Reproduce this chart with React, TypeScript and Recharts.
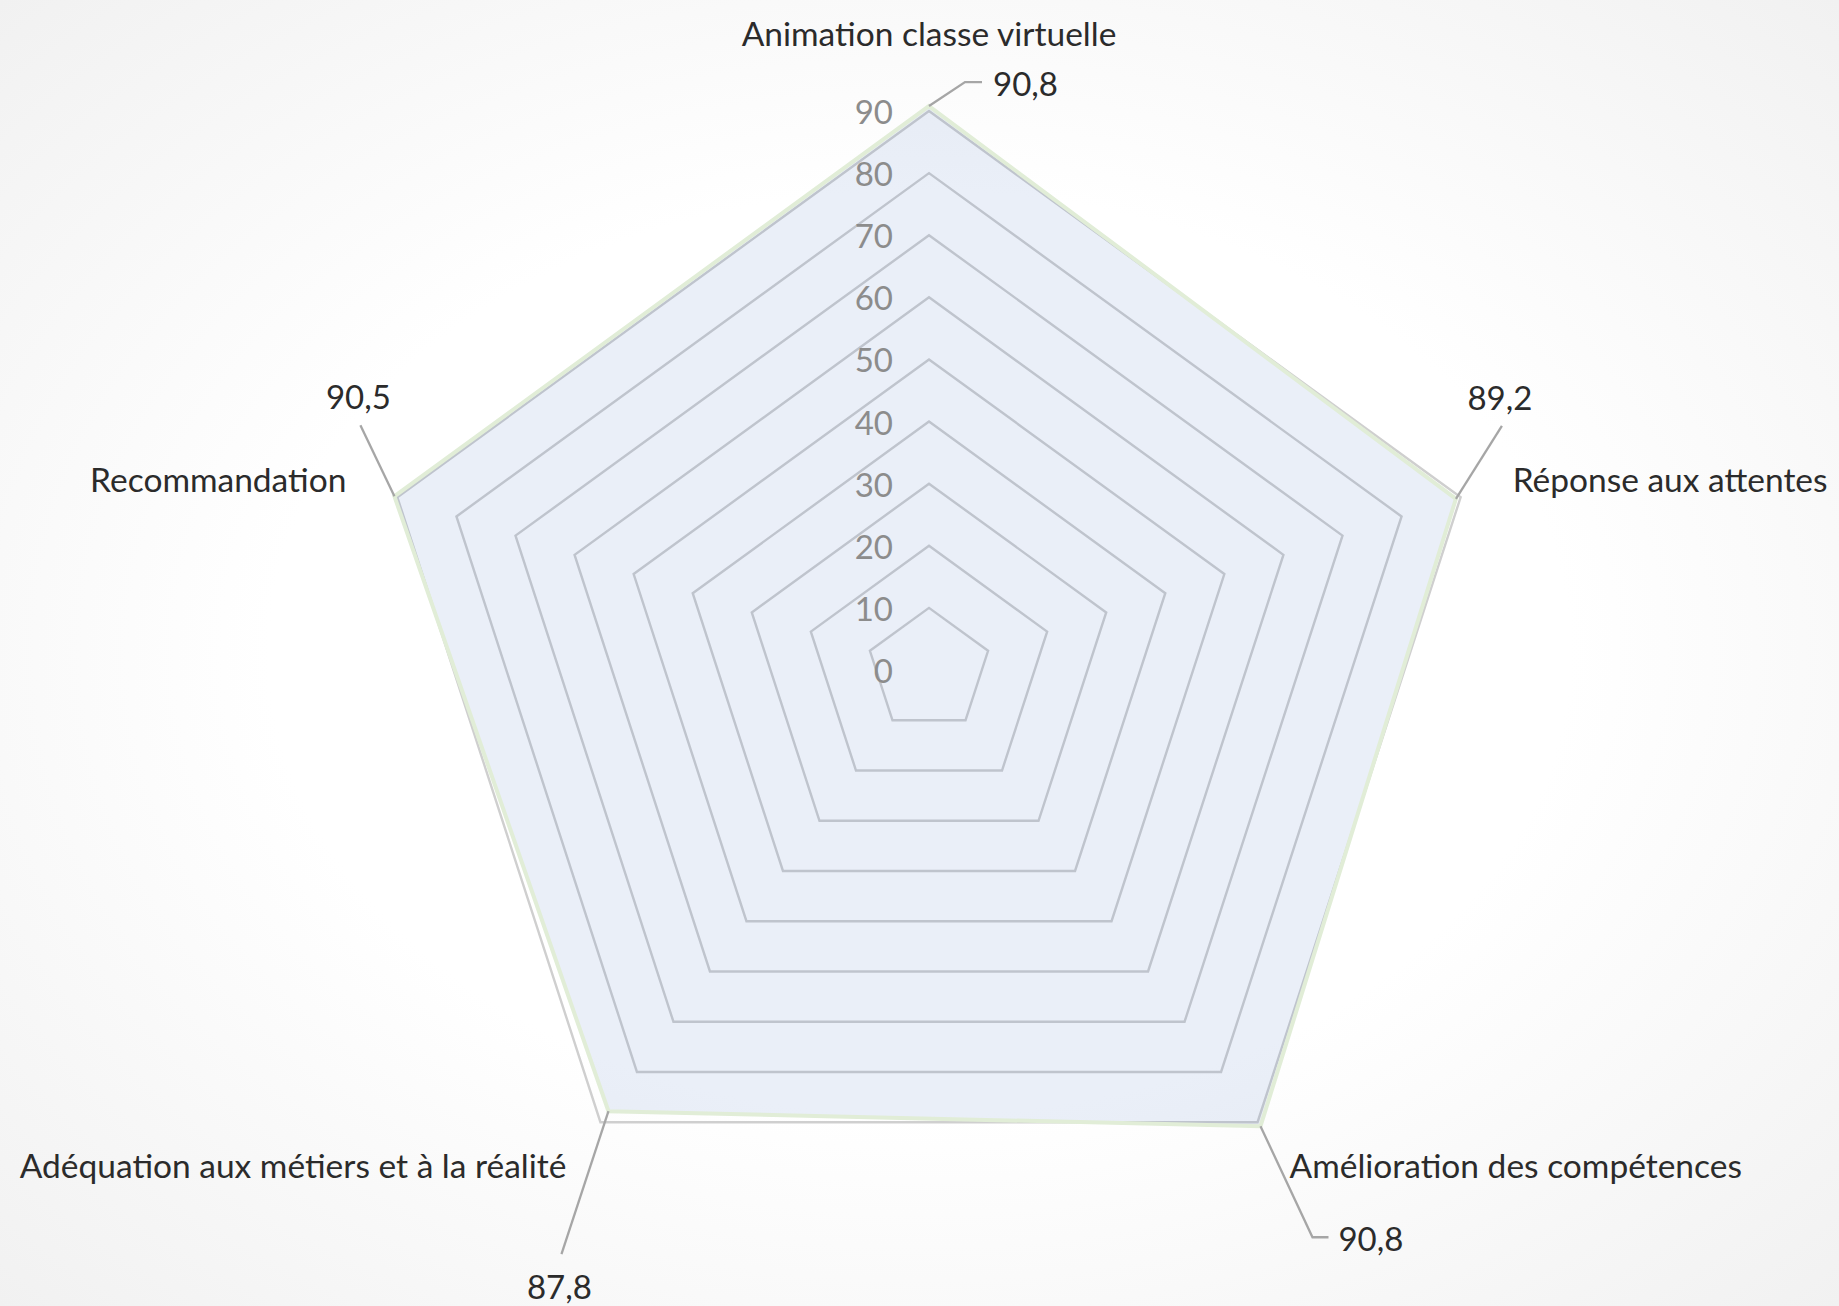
import React from 'react';
import { RadarChart, Radar, PolarGrid, PolarAngleAxis, PolarRadiusAxis } from 'recharts';

const categories = [
  'Animation classe virtuelle',
  'Réponse aux attentes',
  'Amélioration des compétences',
  'Adéquation aux métiers et à la réalité',
  'Recommandation',
];
const scores = [90.8, 89.2, 90.8, 87.8, 90.5];
const radiusTicks = [0, 10, 20, 30, 40, 50, 60, 70, 80, 90];

const rows = categories.map((name, i) => ({ name, score: scores[i] }));

// layout
const W = 1839;
const H = 1306;
const CX = 929;
const CY = 670;
const R = 559;
const FONT = 'Lato, "Open Sans", sans-serif';
const TEXT = '#2b2b2b';

// category label placement relative to the outer vertex
const CAT_LAYOUT: { dx: number; dy: number; anchor: 'start' | 'middle' | 'end' }[] = [
  { dx: 0, dy: -78, anchor: 'middle' },
  { dx: 52, dy: -18, anchor: 'start' },
  { dx: 32, dy: 43, anchor: 'start' },
  { dx: -34, dy: 43, anchor: 'end' },
  { dx: -51, dy: -18, anchor: 'end' },
];

// data label leader lines relative to the data point
const LABEL_LAYOUT: { line: [number, number][]; tx: number; ty: number; anchor: 'start' | 'middle' | 'end' }[] = [
  { line: [[36, -24], [53, -24]], tx: 64, ty: -23, anchor: 'start' },
  { line: [[46, -73]], tx: 44, ty: -102, anchor: 'middle' },
  { line: [[52, 111], [68, 111]], tx: 78, ty: 112, anchor: 'start' },
  { line: [[-47, 143]], tx: -49, ty: 175, anchor: 'middle' },
  { line: [[-34, -71]], tx: -36, ty: -100, anchor: 'middle' },
];

const fmt = (v: number) => v.toFixed(1).replace('.', ',');

const AngleTick = (props: any) => {
  const idx = categories.indexOf(props.payload?.value);
  if (idx < 0) return null;
  const angle = (90 - (360 / categories.length) * idx) * (Math.PI / 180);
  const vx = CX + R * Math.cos(angle);
  const vy = CY - R * Math.sin(angle);
  const l = CAT_LAYOUT[idx];
  return (
    <text
      x={vx + l.dx}
      y={vy + l.dy}
      textAnchor={l.anchor}
      dominantBaseline="central"
      fontFamily={FONT}
      fontSize={33.5}
      fill={TEXT}
    >
      {props.payload.value}
    </text>
  );
};

const RadiusTick = (props: any) => (
  <text
    x={props.x - 36}
    y={props.y}
    textAnchor="end"
    dominantBaseline="central"
    fontFamily={FONT}
    fontSize={33}
    fill="#8C8C8C"
  >
    {props.payload.value}
  </text>
);

const LeaderLabel = (props: any) => {
  const { cx, cy, index } = props;
  const l = LABEL_LAYOUT[index];
  if (!l || cx == null) return null;
  const pts = [[0, 0], ...l.line].map(([dx, dy]) => `${cx + dx},${cy + dy}`).join(' ');
  return (
    <g key={`lbl-${index}`}>
      <polyline points={pts} fill="none" stroke="#A6A6A6" strokeWidth={2.3} />
      <text
        x={cx + l.tx}
        y={cy + l.ty}
        textAnchor={l.anchor}
        dominantBaseline="central"
        fontFamily={FONT}
        fontSize={33}
        fill={TEXT}
      >
        {fmt(scores[index])}
      </text>
    </g>
  );
};

export default function App() {
  return (
    <div
      style={{
        position: 'absolute',
        left: 0,
        top: 0,
        width: W,
        height: H,
        background: 'radial-gradient(ellipse at 50% 50%, #ffffff 50%, #f1f1f1 100%)',
      }}
    >
      <RadarChart
        width={W}
        height={H}
        data={rows}
        cx={CX}
        cy={CY}
        outerRadius={R}
        startAngle={90}
        endAngle={-270}
        margin={{ top: 0, right: 0, bottom: 0, left: 0 }}
      >
        <PolarGrid gridType="polygon" radialLines={false} stroke="#CFCFCF" strokeWidth={2.4} />
        <PolarAngleAxis dataKey="name" tick={<AngleTick />} axisLine={false} tickLine={false} />
        <PolarRadiusAxis
          angle={90}
          domain={[0, 90]}
          allowDataOverflow
          tickCount={radiusTicks.length}
          ticks={radiusTicks as any}
          tick={<RadiusTick />}
          axisLine={false}
          tickLine={false}
        />
        <Radar
          dataKey="score"
          fill="#4472C4"
          fillOpacity={0.115}
          stroke="#E1EDD7"
          strokeWidth={4}
          dot={<LeaderLabel />}
          isAnimationActive={false}
        />
      </RadarChart>
    </div>
  );
}
